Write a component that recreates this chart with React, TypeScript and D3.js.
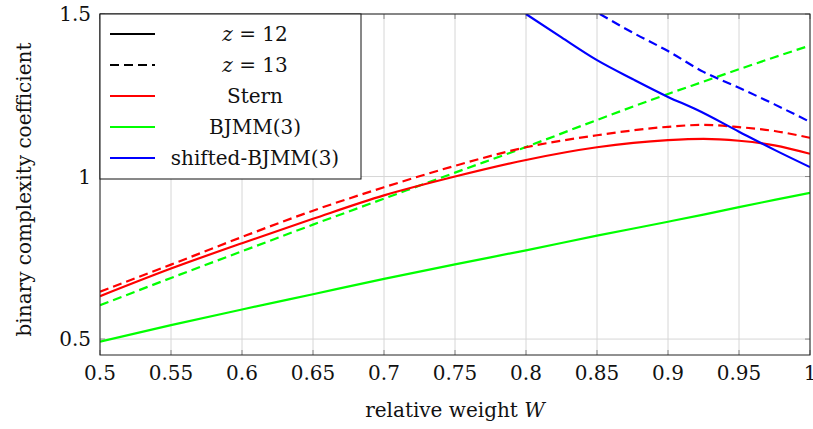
import * as d3 from 'd3'

// relative weight W sample points
const wGrid = [0.5, 0.55, 0.6, 0.65, 0.7, 0.75, 0.8, 0.85, 0.9, 0.925, 0.95, 0.975, 1.0]

const sternZ12 = [0.632, 0.717, 0.795, 0.870, 0.942, 1.0, 1.051, 1.090, 1.112, 1.116, 1.110, 1.096, 1.070]
const sternZ13 = [0.646, 0.729, 0.814, 0.895, 0.967, 1.033, 1.090, 1.127, 1.153, 1.159, 1.152, 1.140, 1.119]
const bjmmZ12 = [0.492, 0.543, 0.591, 0.638, 0.685, 0.730, 0.773, 0.818, 0.861, 0.883, 0.906, 0.928, 0.950]
const bjmmZ13 = [0.604, 0.688, 0.770, 0.852, 0.932, 1.012, 1.091, 1.174, 1.254, 1.292, 1.330, 1.367, 1.403]

const shiftedW12 = [0.8, 0.825, 0.85, 0.875, 0.9, 0.92, 0.95, 0.975, 1.0]
const shiftedZ12 = [1.5, 1.428, 1.358, 1.300, 1.245, 1.206, 1.138, 1.082, 1.029]
const shiftedW13 = [0.852, 0.875, 0.9, 0.925, 0.95, 0.975, 1.0]
const shiftedZ13 = [1.5, 1.443, 1.386, 1.322, 1.273, 1.222, 1.168]

const xTicks = [0.5, 0.55, 0.6, 0.65, 0.7, 0.75, 0.8, 0.85, 0.9, 0.95, 1]
const yTicks = [0.5, 1, 1.5]

const RED = '#ff0000'
const GREEN = '#00ff00'
const BLUE = '#0000ff'
const DASH = '9,5'

const width = 813
const height = 429
const margin = { top: 14, right: 3, bottom: 74, left: 100 }
const font = 'DejaVu Serif, serif'
const fs = 20

export default function App() {
  const x = d3.scaleLinear().domain([0.5, 1]).range([margin.left, width - margin.right])
  const y = d3.scaleLinear().domain([0.451, 1.5]).range([height - margin.bottom, margin.top])

  const line = d3.line<[number, number]>()
    .x(d => x(d[0]))
    .y(d => y(d[1]))
    .curve(d3.curveMonotoneX)

  const zip = (ws: number[], vs: number[]) => ws.map((w, i) => [w, vs[i]] as [number, number])

  const series = [
    { pts: zip(wGrid, bjmmZ12), color: GREEN, dash: null },
    { pts: zip(wGrid, bjmmZ13), color: GREEN, dash: DASH },
    { pts: zip(wGrid, sternZ12), color: RED, dash: null },
    { pts: zip(wGrid, sternZ13), color: RED, dash: DASH },
    { pts: zip(shiftedW12, shiftedZ12), color: BLUE, dash: null },
    { pts: zip(shiftedW13, shiftedZ13), color: BLUE, dash: DASH },
  ]

  const x0 = x.range()[0], x1 = x.range()[1]
  const y0 = y.range()[0], y1 = y.range()[1]

  const legend = [
    { label: 'z12', color: '#000', dash: null },
    { label: 'z13', color: '#000', dash: DASH },
    { label: 'Stern', color: RED, dash: null },
    { label: 'BJMM(3)', color: GREEN, dash: null },
    { label: 'shifted-BJMM(3)', color: BLUE, dash: null },
  ]

  return (
    <svg width={width} height={height} style={{ position: 'absolute', left: 0, top: 0, background: '#fff' }}
      fontFamily={font}>
      <defs>
        <clipPath id="plot-area">
          <rect x={x0} y={y1} width={x1 - x0} height={y0 - y1} />
        </clipPath>
      </defs>

      {/* grid */}
      {xTicks.map(t => (
        <line key={'gx' + t} x1={x(t)} x2={x(t)} y1={y0} y2={y1} stroke="#d6d6d6" strokeWidth={1} />
      ))}
      {yTicks.map(t => (
        <line key={'gy' + t} x1={x0} x2={x1} y1={y(t)} y2={y(t)} stroke="#d6d6d6" strokeWidth={1} />
      ))}

      {/* ticks */}
      {xTicks.map(t => (
        <g key={'tx' + t} stroke="#888" strokeWidth={1}>
          <line x1={x(t)} x2={x(t)} y1={y0} y2={y0 - 5} />
          <line x1={x(t)} x2={x(t)} y1={y1} y2={y1 + 5} />
        </g>
      ))}
      {yTicks.map(t => (
        <g key={'ty' + t} stroke="#888" strokeWidth={1}>
          <line x1={x0} x2={x0 + 5} y1={y(t)} y2={y(t)} />
          <line x1={x1} x2={x1 - 5} y1={y(t)} y2={y(t)} />
        </g>
      ))}

      {/* curves */}
      <g clipPath="url(#plot-area)">
        {series.map((s, i) => (
          <path key={i} d={line(s.pts) || ''} fill="none" stroke={s.color} strokeWidth={2.2}
            strokeDasharray={s.dash || undefined} />
        ))}
      </g>

      {/* axis box */}
      <rect x={x0} y={y1} width={x1 - x0} height={y0 - y1} fill="none" stroke="#222" strokeWidth={1} />

      {/* tick labels */}
      {xTicks.map(t => (
        <text key={'lx' + t} x={x(t)} y={y0 + 25} textAnchor="middle" fontSize={fs} fill="#111">
          {String(t)}
        </text>
      ))}
      {yTicks.map(t => (
        <text key={'ly' + t} x={x0 - 9} y={y(t) + 7} textAnchor="end" fontSize={fs} fill="#111">
          {String(t)}
        </text>
      ))}

      {/* axis titles */}
      <text x={(x0 + x1) / 2} y={417} textAnchor="middle" fontSize={fs} fill="#111">
        relative weight <tspan fontStyle="italic">W</tspan>
      </text>
      <text transform={`translate(31,${(y0 + y1) / 2 + 5}) rotate(-90)`} textAnchor="middle" fontSize={fs} fill="#111">
        binary complexity coefficient
      </text>

      {/* legend */}
      <g>
        <rect x={x0} y={y1} width={261} height={165} fill="#fff" stroke="#111" strokeWidth={1} />
        {legend.map((l, i) => {
          const ly = y1 + 20 + i * 31
          return (
            <g key={l.label}>
              <line x1={x0 + 10} x2={x0 + 55} y1={ly} y2={ly} stroke={l.color} strokeWidth={2.2}
                strokeDasharray={l.dash || undefined} />
              <text x={x0 + 155} y={ly + 7} textAnchor="middle" fontSize={fs} fill="#111">
                {l.label === 'z12' || l.label === 'z13' ? (
                  <>
                    <tspan fontStyle="italic">z</tspan>
                    <tspan> = {l.label.slice(1)}</tspan>
                  </>
                ) : l.label}
              </text>
            </g>
          )
        })}
      </g>
    </svg>
  )
}
